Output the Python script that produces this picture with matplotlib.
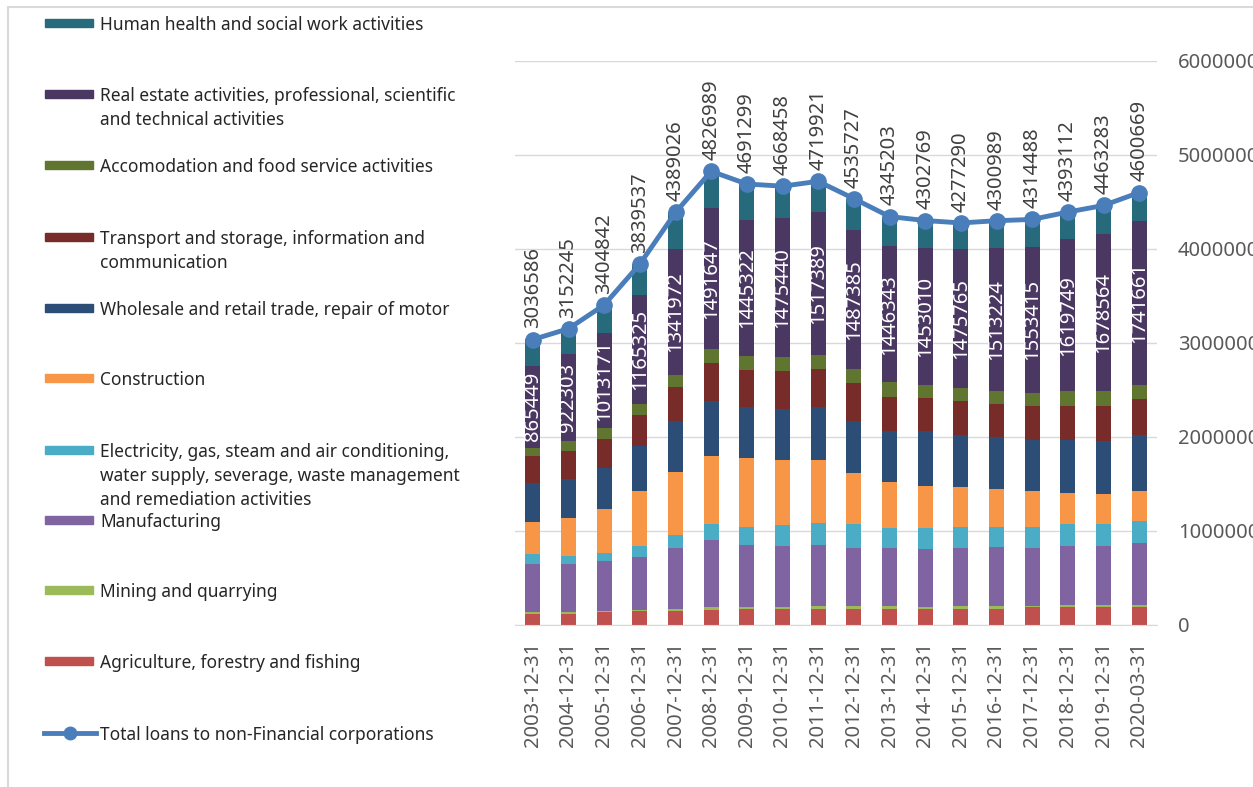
import matplotlib.pyplot as plt
import matplotlib.patches as mpatches
from matplotlib.lines import Line2D
import numpy as np

plt.rcParams['font.family'] = ['Noto Sans', 'DejaVu Sans']

dates = ['2003-12-31', '2004-12-31', '2005-12-31', '2006-12-31', '2007-12-31',
         '2008-12-31', '2009-12-31', '2010-12-31', '2011-12-31', '2012-12-31',
         '2013-12-31', '2014-12-31', '2015-12-31', '2016-12-31', '2017-12-31',
         '2018-12-31', '2019-12-31', '2020-03-31']

agriculture = [122000, 122000, 134000, 150000, 150000, 162000, 175000, 175000, 175000,
               175000, 175000, 175000, 175000, 175000, 191000, 191000, 191000, 191000]
mining = [12000, 12000, 16000, 12000, 21000, 25000, 16000, 12000, 24000,
          24000, 24000, 16000, 24000, 24000, 12000, 24000, 24000, 24000]
manufacturing = [516000, 516000, 528000, 565000, 649000, 714000, 662000, 658000, 654000,
                 625000, 621000, 613000, 621000, 629000, 617000, 630000, 630000, 654000]
electricity = [101000, 89000, 85000, 113000, 134000, 171000, 190000, 215000, 235000,
               248000, 211000, 227000, 223000, 215000, 223000, 227000, 227000, 239000]
construction = [345000, 398000, 475000, 589000, 678000, 727000, 731000, 694000, 666000,
                540000, 487000, 451000, 427000, 402000, 378000, 333000, 321000, 321000]
wholesale = [418000, 418000, 431000, 471000, 540000, 588000, 540000, 548000, 560000,
             560000, 545000, 581000, 552000, 553000, 548000, 564000, 564000, 593000]
transport = [281000, 292000, 308000, 333000, 357000, 402000, 398000, 398000, 406000,
             398000, 365000, 353000, 361000, 357000, 366000, 366000, 378000, 386000]
accomodation = [93000, 110000, 118000, 114000, 130000, 151000, 150000, 150000, 155000,
                150000, 154000, 142000, 138000, 138000, 134000, 150000, 150000, 150000]
real_estate = [865449, 922303, 1013171, 1165325, 1341972, 1491647, 1445322, 1475440, 1517389,
               1487385, 1446343, 1453010, 1475765, 1513224, 1553415, 1619749, 1678564, 1741661]
health = [284000, 273000, 297000, 328000, 388000, 395000, 384000, 343000, 328000,
          329000, 317000, 292000, 280000, 295000, 292000, 288000, 299000, 301000]
total = [3036586, 3152245, 3404842, 3839537, 4389026, 4826989, 4691299, 4668458, 4719921,
         4535727, 4345203, 4302769, 4277290, 4300989, 4314488, 4393112, 4463283, 4600669]

series = [
    ('Agriculture, forestry and fishing', agriculture, '#C0504D'),
    ('Mining and quarrying', mining, '#9BBB59'),
    ('Manufacturing', manufacturing, '#8064A2'),
    ('Electricity, gas, steam and air conditioning,\nwater supply, severage, waste management\nand remediation activities',
     electricity, '#4BACC6'),
    ('Construction', construction, '#F79646'),
    ('Wholesale and retail trade, repair of motor', wholesale, '#2C4D76'),
    ('Transport and storage, information and\ncommunication', transport, '#772C2A'),
    ('Accomodation and food service activities', accomodation, '#5F7530'),
    ('Real estate activities, professional, scientific\nand technical activities', real_estate, '#4A3862'),
    ('Human health and social work activities', health, '#276A7C'),
]
line_color = '#4A7EBB'

W, H = 1253, 787
fig = plt.figure(figsize=(W / 100, H / 100), dpi=100)
ax = fig.add_axes([515 / W, 1 - 625 / H, (1157 - 515) / W, (625 - 61) / H])

x = np.arange(len(dates))
bottom = np.zeros(len(dates))
re_bottom = None
for name, vals, col in series:
    vals = np.array(vals, dtype=float)
    ax.bar(x, vals, 0.42, bottom=bottom, color=col, zorder=2)
    if name.startswith('Real estate'):
        re_bottom = bottom.copy()
    bottom += vals

# labels inside real estate segment
for i, v in enumerate(real_estate):
    ax.text(x[i], re_bottom[i] + v / 2, str(v), rotation=90, ha='center', va='center',
            color='white', fontsize=14.5, zorder=4)

ax.plot(x, total, color=line_color, lw=3.5, marker='o', ms=11, zorder=3)
for i, v in enumerate(total):
    ax.annotate(str(v), (x[i], v), xytext=(0, 8), textcoords='offset points',
                rotation=90, ha='center', va='bottom', color='#404040', fontsize=14.5)

ax.set_xlim(-0.5, len(dates) - 0.5)
ax.set_ylim(0, 6000000)
ax.set_yticks(np.arange(0, 6000001, 1000000))
ax.yaxis.tick_right()
ax.set_yticklabels([str(int(t)) for t in ax.get_yticks()])
ax.tick_params(axis='y', length=0, pad=15, labelsize=14.5, labelcolor='#595959')
ax.set_xticks(x)
ax.set_xticklabels(dates, rotation=90)
ax.tick_params(axis='x', length=0, pad=12, labelsize=14.5, labelcolor='#595959')
ax.grid(axis='y', color='#D9D9D9', lw=1, zorder=0)
for s in ['top', 'left', 'right']:
    ax.spines[s].set_visible(False)
ax.spines['bottom'].set_color('#D9D9D9')

# chart border
fig.patches.append(mpatches.Rectangle((8 / W, -0.1), 1.2, 1 - 7 / H + 0.1,
                                      transform=fig.transFigure, fill=False,
                                      edgecolor='#D9D9D9', lw=1.5))

# legend drawn on the left
legend_y = [23, 94, 165, 237, 308, 378, 450, 520, 590, 661]
for (name, vals, col), yy in zip(series[::-1], legend_y):
    fig.patches.append(mpatches.Rectangle((45 / W, 1 - (yy + 4) / H), 48 / W, 8 / H,
                                          transform=fig.transFigure, color=col))
    for k, line in enumerate(name.split('\n')):
        fig.text(100 / W, 1 - (yy + 24 * k) / H, line, ha='left', va='center_baseline',
                 fontsize=12.5, color='#262626')

yy = 733
fig.add_artist(Line2D([44 / W, 96 / W], [1 - yy / H, 1 - yy / H], transform=fig.transFigure,
                      color=line_color, lw=3.5))
fig.add_artist(Line2D([70 / W], [1 - yy / H], transform=fig.transFigure,
                      color=line_color, marker='o', ms=9))
fig.text(100 / W, 1 - yy / H, 'Total loans to non-Financial corporations', ha='left',
         va='center_baseline', fontsize=12.5, color='#262626')

fig.savefig('out.png', dpi=100)
